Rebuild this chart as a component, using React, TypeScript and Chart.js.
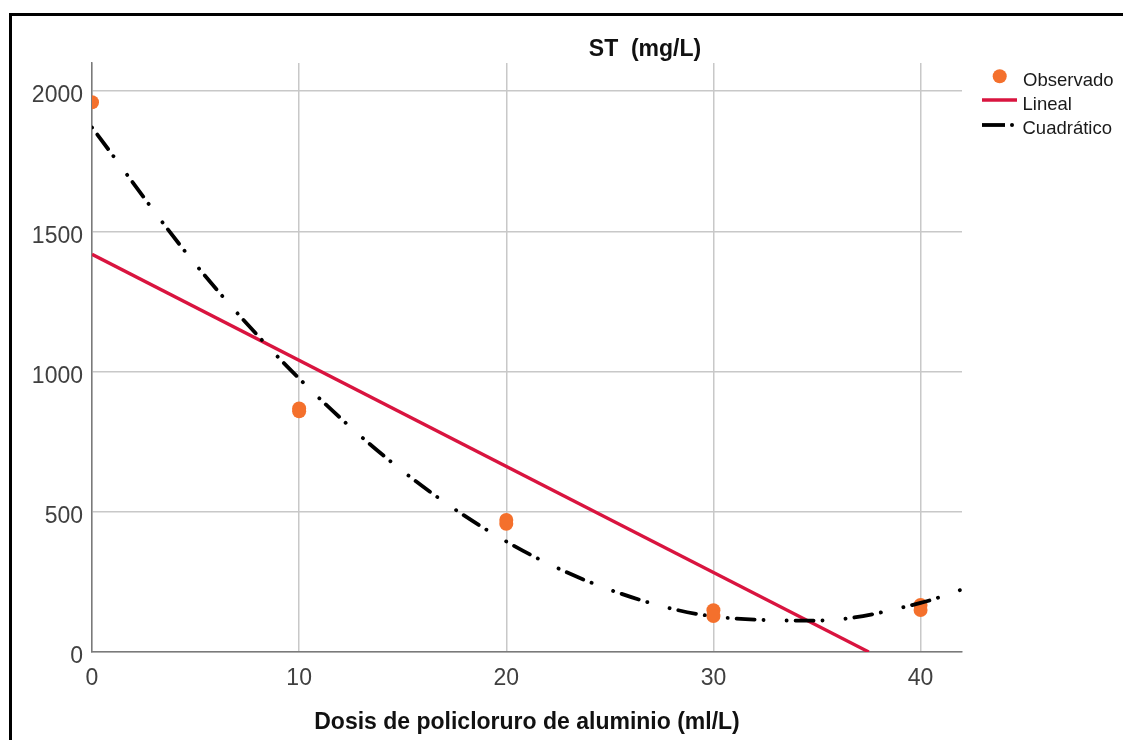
import React, { useEffect, useRef } from 'react';
import { Chart, registerables } from 'chart.js';

Chart.register(...registerables);

// ---- data ----
const observedX = [0, 10, 10, 20, 20, 30, 30, 40, 40];
const observedY = [1960, 868, 858, 471, 457, 149, 128, 168, 150];
const linearX = [0, 37.5];
const linearY = [1418, 0];
const quadX = [0, 5, 10, 15, 20, 25, 30, 35, 40, 42];
const quadY = [1870, 1382, 975, 645, 394, 222, 127, 112, 175, 223];
const xTicks = [0, 10, 20, 30, 40];
const yTicks = [0, 500, 1000, 1500, 2000];
const legendLabels = ['Observado', 'Lineal', 'Cuadrático'];
const chartTitle = 'ST  (mg/L)';
const xTitle = 'Dosis de policloruro de aluminio (ml/L)';

const FONT = "'Liberation Sans', Arial, sans-serif";
const ORANGE = '#f4702c';
const RED = '#d9143f';
const BLACK = '#000000';
const QUAD_DASH = [0.1, 8.9, 18, 8.9, 0.1, 23];

const overlayPlugin = {
  id: 'overlay',
  beforeDraw(chart: any) {
    const ctx = chart.ctx;
    ctx.save();
    ctx.fillStyle = '#ffffff';
    ctx.fillRect(0, 0, chart.width, chart.height);
    ctx.restore();
  },
  afterDraw(chart: any) {
    const ctx = chart.ctx;
    ctx.save();
    // outer frame (extends beyond the crop)
    ctx.strokeStyle = '#000';
    ctx.lineWidth = 3;
    ctx.setLineDash([]);
    ctx.beginPath();
    ctx.moveTo(10.5, chart.height + 10);
    ctx.lineTo(10.5, 14.5);
    ctx.lineTo(chart.width + 10, 14.5);
    ctx.stroke();

    // title
    ctx.fillStyle = '#111';
    ctx.font = `bold 23px ${FONT}`;
    ctx.textAlign = 'center';
    ctx.textBaseline = 'alphabetic';
    ctx.fillText(chartTitle, 645, 56);

    // legend
    const ds = chart.data.datasets;
    ctx.font = `18.5px ${FONT}`;
    ctx.textAlign = 'left';
    // Observado
    ctx.beginPath();
    ctx.fillStyle = ds[0].backgroundColor;
    ctx.arc(999.7, 76.3, 7, 0, Math.PI * 2);
    ctx.fill();
    ctx.fillStyle = '#1a1a1a';
    ctx.fillText(legendLabels[0], 1023, 86);
    // Lineal
    ctx.strokeStyle = ds[1].borderColor;
    ctx.lineWidth = 3.3;
    ctx.beginPath();
    ctx.moveTo(982, 100);
    ctx.lineTo(1017, 100);
    ctx.stroke();
    ctx.fillText(legendLabels[1], 1022.5, 110);
    // Cuadrático
    ctx.strokeStyle = ds[2].borderColor;
    ctx.lineWidth = 3.8;
    ctx.beginPath();
    ctx.moveTo(982, 125);
    ctx.lineTo(1005, 125);
    ctx.stroke();
    ctx.beginPath();
    ctx.fillStyle = ds[2].borderColor;
    ctx.arc(1012, 125, 2, 0, Math.PI * 2);
    ctx.fill();
    ctx.fillStyle = '#1a1a1a';
    ctx.fillText(legendLabels[2], 1022.5, 134);
    ctx.restore();
  },
};

export default function App() {
  const ref = useRef<HTMLCanvasElement | null>(null);

  useEffect(() => {
    document.body.style.margin = '0';
    const canvas = ref.current;
    if (!canvas) return;

    const chart = new Chart(canvas, {
      type: 'line',
      data: {
        datasets: [
          {
            type: 'scatter',
            label: legendLabels[0],
            data: observedX.map((x, i) => ({ x, y: observedY[i] })),
            backgroundColor: ORANGE,
            borderColor: ORANGE,
            borderWidth: 0,
            pointRadius: 7,
            pointHoverRadius: 7,
            showLine: false,
            clip: 0,
            order: 3,
          } as any,
          {
            type: 'line',
            label: legendLabels[1],
            data: linearX.map((x, i) => ({ x, y: linearY[i] })),
            borderColor: RED,
            backgroundColor: RED,
            borderWidth: 3.3,
            pointRadius: 0,
            tension: 0,
            fill: false,
            clip: 0,
            order: 2,
          } as any,
          {
            type: 'line',
            label: legendLabels[2],
            data: quadX.map((x, i) => ({ x, y: quadY[i] })),
            borderColor: BLACK,
            backgroundColor: BLACK,
            borderWidth: 3.8,
            borderDash: QUAD_DASH,
            borderCapStyle: 'round',
            pointRadius: 0,
            cubicInterpolationMode: 'monotone',
            fill: false,
            clip: 0,
            order: 1,
          } as any,
        ],
      },
      options: {
        animation: false,
        responsive: false,
        devicePixelRatio: 1,
        layout: { padding: { top: 63, right: 161, left: 0, bottom: 0 } },
        plugins: {
          legend: { display: false },
          title: { display: false },
          tooltip: { enabled: false },
        },
        scales: {
          x: {
            type: 'linear',
            min: 0,
            max: 42,
            afterBuildTicks: (s: any) => {
              s.ticks = xTicks.map((v) => ({ value: v }));
            },
            afterFit: (s: any) => {
              s.height = 88;
            },
            grid: { color: '#c8c8c8', lineWidth: 1.5, drawTicks: false },
            border: { color: '#7a7a7a', width: 1.5 },
            ticks: {
              padding: 13,
              color: '#404040',
              font: { family: FONT, size: 23 },
              maxRotation: 0,
              autoSkip: false,
              callback: (v: any) => String(v),
            },
            title: {
              display: true,
              text: xTitle,
              color: '#111',
              font: { family: FONT, size: 23, weight: 'bold' },
              padding: { top: 0, bottom: 4 },
            },
          },
          y: {
            type: 'linear',
            min: 0,
            max: 2100,
            afterBuildTicks: (s: any) => {
              s.ticks = yTicks.map((v) => ({ value: v }));
            },
            afterFit: (s: any) => {
              s.width = 92;
            },
            grid: { color: '#c8c8c8', lineWidth: 1.5, drawTicks: false },
            border: { color: '#7a7a7a', width: 1.5 },
            ticks: {
              padding: 9,
              labelOffset: 5,
              color: '#404040',
              font: { family: FONT, size: 23 },
              autoSkip: false,
              callback: (v: any) => String(v),
            },
          },
        },
      } as any,
      plugins: [overlayPlugin],
    });

    return () => chart.destroy();
  }, []);

  return (
    <div style={{ width: 1123, height: 740, overflow: 'hidden', background: '#fff', position: 'relative' }}>
      <canvas ref={ref} width={1123} height={740} style={{ display: 'block' }} />
    </div>
  );
}
